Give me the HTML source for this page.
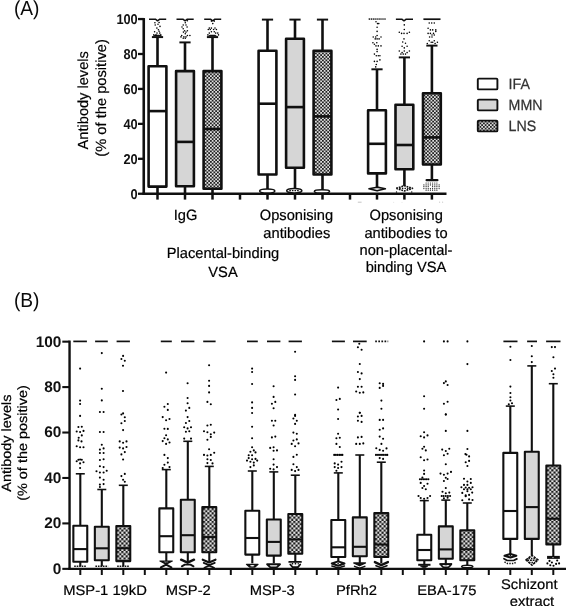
<!DOCTYPE html>
<html lang="en"><head><meta charset="utf-8"><title>Antibody levels box plots</title>
<style>html,body{margin:0;padding:0;background:#fff;}body{width:566px;height:606px;overflow:hidden;font-family:"Liberation Sans", sans-serif;}svg{display:block;filter:grayscale(1);}text{font-family:"Liberation Sans", sans-serif;text-rendering:geometricPrecision;}</style>
</head><body>
<svg width="566" height="606" viewBox="0 0 566 606">
<defs><pattern id="hatch" x="0" y="0" width="3.5" height="3.5" patternUnits="userSpaceOnUse"><rect width="3.5" height="3.5" fill="#dedede"/><rect x="0" y="0" width="1.75" height="1.75" fill="#222222"/><rect x="1.75" y="1.75" width="1.75" height="1.75" fill="#222222"/></pattern><pattern id="hatchB" x="0.9" y="0.6" width="4.3" height="4.3" patternUnits="userSpaceOnUse"><rect width="4.3" height="4.3" fill="#e2e2e2"/><rect x="0" y="0" width="2.15" height="2.15" fill="#1c1c1c"/><rect x="2.15" y="2.15" width="2.15" height="2.15" fill="#1c1c1c"/></pattern></defs>
<rect width="566" height="606" fill="#ffffff"/>
<g id="figure">
<text transform="translate(13.9,14.5) scale(0.945,1)" font-size="20.3" fill="#0a0a0a">(A)</text>
<text transform="translate(13.9,307.4) scale(0.945,1)" font-size="20.3" fill="#0a0a0a">(B)</text>
<g id="panelA">
<line x1="143.75" y1="18.05" x2="143.75" y2="194.85" stroke="#101010" stroke-width="2.6"/>
<line x1="142.45" y1="193.75" x2="446.5" y2="193.75" stroke="#101010" stroke-width="2.6"/>
<line x1="138.0" y1="193.75" x2="143.75" y2="193.75" stroke="#101010" stroke-width="2.3"/>
<text transform="translate(137.7,198.60) scale(0.9,1)" font-size="14.2" font-weight="bold" text-anchor="end" fill="#111">0</text>
<line x1="138.0" y1="158.81" x2="143.75" y2="158.81" stroke="#101010" stroke-width="2.3"/>
<text transform="translate(137.7,163.66) scale(0.9,1)" font-size="14.2" font-weight="bold" text-anchor="end" fill="#111">20</text>
<line x1="138.0" y1="123.87" x2="143.75" y2="123.87" stroke="#101010" stroke-width="2.3"/>
<text transform="translate(137.7,128.72) scale(0.9,1)" font-size="14.2" font-weight="bold" text-anchor="end" fill="#111">40</text>
<line x1="138.0" y1="88.93" x2="143.75" y2="88.93" stroke="#101010" stroke-width="2.3"/>
<text transform="translate(137.7,93.78) scale(0.9,1)" font-size="14.2" font-weight="bold" text-anchor="end" fill="#111">60</text>
<line x1="138.0" y1="53.99" x2="143.75" y2="53.99" stroke="#101010" stroke-width="2.3"/>
<text transform="translate(137.7,58.84) scale(0.9,1)" font-size="14.2" font-weight="bold" text-anchor="end" fill="#111">80</text>
<line x1="138.0" y1="19.05" x2="143.75" y2="19.05" stroke="#101010" stroke-width="2.3"/>
<text transform="translate(137.7,23.90) scale(0.9,1)" font-size="14.2" font-weight="bold" text-anchor="end" fill="#111">100</text>
<line x1="157.5" y1="193.75" x2="157.5" y2="199.6" stroke="#101010" stroke-width="2.5"/>
<line x1="185.0" y1="193.75" x2="185.0" y2="199.6" stroke="#101010" stroke-width="2.5"/>
<line x1="212.5" y1="193.75" x2="212.5" y2="199.6" stroke="#101010" stroke-width="2.5"/>
<line x1="267.5" y1="193.75" x2="267.5" y2="199.6" stroke="#101010" stroke-width="2.5"/>
<line x1="295.0" y1="193.75" x2="295.0" y2="199.6" stroke="#101010" stroke-width="2.5"/>
<line x1="322.5" y1="193.75" x2="322.5" y2="199.6" stroke="#101010" stroke-width="2.5"/>
<line x1="377.0" y1="193.75" x2="377.0" y2="199.6" stroke="#101010" stroke-width="2.5"/>
<line x1="404.4" y1="193.75" x2="404.4" y2="199.6" stroke="#101010" stroke-width="2.5"/>
<line x1="431.9" y1="193.75" x2="431.9" y2="199.6" stroke="#101010" stroke-width="2.5"/>
<line x1="240.0" y1="193.75" x2="240.0" y2="199.6" stroke="#101010" stroke-width="2.5"/>
<line x1="350.0" y1="193.75" x2="350.0" y2="199.6" stroke="#101010" stroke-width="2.5"/>
<text transform="translate(88.4,100.3) rotate(-90)" font-size="14.6" text-anchor="middle" fill="#000" stroke="#000" stroke-width="0.2">Antibody levels</text>
<text transform="translate(106.2,97.9) rotate(-90)" font-size="14.7" text-anchor="middle" fill="#000" stroke="#000" stroke-width="0.2">(% of the positive)</text>
<line x1="157.50" y1="37.10" x2="157.50" y2="66.20" stroke="#101010" stroke-width="2.6"/>
<line x1="151.90" y1="37.10" x2="163.10" y2="37.10" stroke="#101010" stroke-width="1.95"/>
<line x1="157.50" y1="186.60" x2="157.50" y2="193.75" stroke="#101010" stroke-width="2.6"/>
<rect x="148.60" y="66.20" width="17.80" height="120.40" fill="#ffffff" stroke="#101010" stroke-width="2.6" stroke-linejoin="round"/>
<line x1="148.60" y1="111.10" x2="166.40" y2="111.10" stroke="#101010" stroke-width="2.6"/>
<line x1="185.00" y1="42.40" x2="185.00" y2="71.10" stroke="#101010" stroke-width="2.6"/>
<line x1="179.40" y1="42.40" x2="190.60" y2="42.40" stroke="#101010" stroke-width="1.95"/>
<line x1="185.00" y1="186.30" x2="185.00" y2="193.75" stroke="#101010" stroke-width="2.6"/>
<rect x="176.10" y="71.10" width="17.80" height="115.20" fill="#d6d6d6" stroke="#101010" stroke-width="2.6" stroke-linejoin="round"/>
<line x1="176.10" y1="141.90" x2="193.90" y2="141.90" stroke="#101010" stroke-width="2.6"/>
<line x1="212.50" y1="37.10" x2="212.50" y2="71.10" stroke="#101010" stroke-width="2.6"/>
<line x1="206.90" y1="37.10" x2="218.10" y2="37.10" stroke="#101010" stroke-width="1.95"/>
<line x1="212.50" y1="188.70" x2="212.50" y2="193.75" stroke="#101010" stroke-width="2.6"/>
<rect x="203.60" y="71.10" width="17.80" height="117.60" fill="url(#hatch)" stroke="#101010" stroke-width="2.6" stroke-linejoin="round"/>
<line x1="203.60" y1="129.00" x2="221.40" y2="129.00" stroke="#101010" stroke-width="2.6"/>
<line x1="267.50" y1="19.60" x2="267.50" y2="50.70" stroke="#101010" stroke-width="2.6"/>
<line x1="261.90" y1="19.60" x2="273.10" y2="19.60" stroke="#101010" stroke-width="1.95"/>
<line x1="267.50" y1="174.50" x2="267.50" y2="191.30" stroke="#101010" stroke-width="2.6"/>
<rect x="258.60" y="50.70" width="17.80" height="123.80" fill="#ffffff" stroke="#101010" stroke-width="2.6" stroke-linejoin="round"/>
<line x1="258.60" y1="103.70" x2="276.40" y2="103.70" stroke="#101010" stroke-width="2.6"/>
<line x1="295.00" y1="19.60" x2="295.00" y2="38.80" stroke="#101010" stroke-width="2.6"/>
<line x1="289.40" y1="19.60" x2="300.60" y2="19.60" stroke="#101010" stroke-width="1.95"/>
<line x1="295.00" y1="167.80" x2="295.00" y2="191.30" stroke="#101010" stroke-width="2.6"/>
<rect x="286.10" y="38.80" width="17.80" height="129.00" fill="#d6d6d6" stroke="#101010" stroke-width="2.6" stroke-linejoin="round"/>
<line x1="286.10" y1="107.10" x2="303.90" y2="107.10" stroke="#101010" stroke-width="2.6"/>
<line x1="322.50" y1="19.60" x2="322.50" y2="50.70" stroke="#101010" stroke-width="2.6"/>
<line x1="316.90" y1="19.60" x2="328.10" y2="19.60" stroke="#101010" stroke-width="1.95"/>
<line x1="322.50" y1="174.50" x2="322.50" y2="191.60" stroke="#101010" stroke-width="2.6"/>
<rect x="313.60" y="50.70" width="17.80" height="123.80" fill="url(#hatch)" stroke="#101010" stroke-width="2.6" stroke-linejoin="round"/>
<line x1="313.60" y1="116.40" x2="331.40" y2="116.40" stroke="#101010" stroke-width="2.6"/>
<line x1="377.00" y1="69.30" x2="377.00" y2="110.30" stroke="#101010" stroke-width="2.6"/>
<line x1="371.40" y1="69.30" x2="382.60" y2="69.30" stroke="#101010" stroke-width="1.95"/>
<line x1="377.00" y1="173.40" x2="377.00" y2="187.40" stroke="#101010" stroke-width="2.6"/>
<rect x="368.10" y="110.30" width="17.80" height="63.10" fill="#ffffff" stroke="#101010" stroke-width="2.6" stroke-linejoin="round"/>
<line x1="368.10" y1="143.80" x2="385.90" y2="143.80" stroke="#101010" stroke-width="2.6"/>
<line x1="404.40" y1="57.40" x2="404.40" y2="104.80" stroke="#101010" stroke-width="2.6"/>
<line x1="398.80" y1="57.40" x2="410.00" y2="57.40" stroke="#101010" stroke-width="1.95"/>
<line x1="404.40" y1="169.20" x2="404.40" y2="187.40" stroke="#101010" stroke-width="2.6"/>
<rect x="395.50" y="104.80" width="17.80" height="64.40" fill="#d6d6d6" stroke="#101010" stroke-width="2.6" stroke-linejoin="round"/>
<line x1="395.50" y1="145.00" x2="413.30" y2="145.00" stroke="#101010" stroke-width="2.6"/>
<line x1="431.90" y1="45.60" x2="431.90" y2="93.30" stroke="#101010" stroke-width="2.6"/>
<line x1="426.30" y1="45.60" x2="437.50" y2="45.60" stroke="#101010" stroke-width="1.95"/>
<line x1="431.90" y1="164.50" x2="431.90" y2="181.00" stroke="#101010" stroke-width="2.6"/>
<rect x="423.00" y="93.30" width="17.80" height="71.20" fill="url(#hatch)" stroke="#101010" stroke-width="2.6" stroke-linejoin="round"/>
<line x1="423.00" y1="137.40" x2="440.80" y2="137.40" stroke="#101010" stroke-width="2.6"/>
<polyline points="149.0,19.2 155.4,19.2 157.6,20.8 159.79999999999998,19.2 166.2,19.2" fill="none" stroke="#101010" stroke-width="1.5" stroke-linejoin="round"/>
<polyline points="176.5,19.2 182.9,19.2 185.1,20.8 187.29999999999998,19.2 193.7,19.2" fill="none" stroke="#101010" stroke-width="1.5" stroke-linejoin="round"/>
<polyline points="204.2,19.2 210.5,19.2 212.7,20.8 214.89999999999998,19.2 221.2,19.2" fill="none" stroke="#101010" stroke-width="1.5" stroke-linejoin="round"/>
<polyline points="395.9,19.2 401.8,19.2 404.0,20.8 406.2,19.2 413.0,19.2" fill="none" stroke="#101010" stroke-width="1.5" stroke-linejoin="round"/>
<line x1="423.4" y1="19.2" x2="440.5" y2="19.2" stroke="#101010" stroke-width="1.7"/>
<polygon points="152.3,36.5 154.9,34.7 160.1,34.7 162.7,36.5" fill="#101010"/>
<polygon points="207.3,36.5 209.9,34.7 215.1,34.7 217.7,36.5" fill="#101010"/>
<ellipse cx="267.24" cy="190.99" rx="7.6" ry="2.0" fill="#fff" stroke="#101010" stroke-width="1.5"/>
<ellipse cx="294.29" cy="190.68" rx="7.6" ry="2.3" fill="#fff" stroke="#101010" stroke-width="1.5"/>
<line x1="289.29" y1="190.68" x2="299.29" y2="190.68" stroke="#101010" stroke-width="1.2" stroke-dasharray="1.6 1"/>
<ellipse cx="321.96" cy="191.46" rx="7.6" ry="1.6" fill="#fff" stroke="#101010" stroke-width="1.5"/>
<polygon points="369.00,188.76 377.08,187.21 385.32,188.76 377.08,190.78" fill="#fff" stroke="#101010" stroke-width="1.7" stroke-linejoin="round" stroke-linecap="round"/>
<polygon points="396.20,188.30 404.29,185.81 412.53,188.30 404.29,190.94" fill="#fff" stroke="#101010" stroke-width="1.7" stroke-linejoin="round" stroke-linecap="butt" stroke-dasharray="1.8 0.9"/>
<polyline points="399.31,188.30 409.42,188.30" fill="none" stroke="#101010" stroke-width="1.2" stroke-linejoin="round" stroke-linecap="butt" stroke-dasharray="1.4 1.2"/>
<circle cx="396.51" cy="192.03" r="0.7" fill="#101010"/><circle cx="411.75" cy="192.03" r="0.7" fill="#101010"/>
<line x1="426.6" y1="180.2" x2="437.4" y2="180.2" stroke="#101010" stroke-width="2.2" stroke-linecap="round"/>
<line x1="357.8" y1="202.2" x2="361.6" y2="202.2" stroke="#c4c4c4" stroke-width="1"/><circle cx="439.6" cy="202.2" r="0.6" fill="#ccc"/><circle cx="442.6" cy="202.2" r="0.6" fill="#ccc"/><circle cx="393.7" cy="202.2" r="0.5" fill="#ddd"/><circle cx="402.0" cy="202.2" r="0.5" fill="#ddd"/>
<circle cx="154.9" cy="22.8" r="0.78" fill="#000"/>
<circle cx="159.1" cy="22.5" r="0.78" fill="#000"/>
<circle cx="155.2" cy="25.0" r="0.78" fill="#000"/>
<circle cx="158.0" cy="24.2" r="0.78" fill="#000"/>
<circle cx="160.0" cy="26.4" r="0.78" fill="#000"/>
<circle cx="156.9" cy="28.1" r="0.78" fill="#000"/>
<circle cx="158.4" cy="29.8" r="0.78" fill="#000"/>
<circle cx="154.6" cy="31.7" r="0.78" fill="#000"/>
<circle cx="159.1" cy="31.2" r="0.78" fill="#000"/>
<circle cx="157.0" cy="33.1" r="0.78" fill="#000"/>
<circle cx="159.8" cy="33.1" r="0.78" fill="#000"/>
<circle cx="153.8" cy="34.9" r="0.78" fill="#000"/>
<circle cx="156.0" cy="34.9" r="0.78" fill="#000"/>
<circle cx="160.8" cy="34.9" r="0.78" fill="#000"/>
<circle cx="187.4" cy="20.8" r="0.78" fill="#000"/>
<circle cx="185.3" cy="22.8" r="0.78" fill="#000"/>
<circle cx="183.2" cy="25.0" r="0.78" fill="#000"/>
<circle cx="186.0" cy="25.0" r="0.78" fill="#000"/>
<circle cx="182.0" cy="27.0" r="0.78" fill="#000"/>
<circle cx="187.1" cy="27.0" r="0.78" fill="#000"/>
<circle cx="183.2" cy="28.8" r="0.78" fill="#000"/>
<circle cx="184.6" cy="30.7" r="0.78" fill="#000"/>
<circle cx="187.4" cy="30.7" r="0.78" fill="#000"/>
<circle cx="183.4" cy="32.1" r="0.78" fill="#000"/>
<circle cx="186.0" cy="32.1" r="0.78" fill="#000"/>
<circle cx="185.3" cy="33.8" r="0.78" fill="#000"/>
<circle cx="181.7" cy="35.5" r="0.78" fill="#000"/>
<circle cx="187.4" cy="35.5" r="0.78" fill="#000"/>
<circle cx="189.9" cy="35.5" r="0.78" fill="#000"/>
<circle cx="181.0" cy="36.9" r="0.78" fill="#000"/>
<circle cx="183.9" cy="36.9" r="0.78" fill="#000"/>
<circle cx="186.0" cy="36.9" r="0.78" fill="#000"/>
<circle cx="183.2" cy="38.3" r="0.78" fill="#000"/>
<circle cx="185.3" cy="38.3" r="0.78" fill="#000"/>
<circle cx="211.4" cy="21.1" r="0.78" fill="#000"/>
<circle cx="214.3" cy="21.1" r="0.78" fill="#000"/>
<circle cx="212.8" cy="23.6" r="0.78" fill="#000"/>
<circle cx="209.3" cy="28.1" r="0.78" fill="#000"/>
<circle cx="211.4" cy="28.1" r="0.78" fill="#000"/>
<circle cx="215.0" cy="28.1" r="0.78" fill="#000"/>
<circle cx="208.3" cy="29.5" r="0.78" fill="#000"/>
<circle cx="210.3" cy="29.5" r="0.78" fill="#000"/>
<circle cx="213.6" cy="29.5" r="0.78" fill="#000"/>
<circle cx="216.4" cy="29.5" r="0.78" fill="#000"/>
<circle cx="211.4" cy="31.7" r="0.78" fill="#000"/>
<circle cx="214.3" cy="31.7" r="0.78" fill="#000"/>
<circle cx="209.3" cy="33.1" r="0.78" fill="#000"/>
<circle cx="215.7" cy="33.1" r="0.78" fill="#000"/>
<circle cx="217.8" cy="33.1" r="0.78" fill="#000"/>
<circle cx="207.9" cy="34.9" r="0.78" fill="#000"/>
<circle cx="218.5" cy="34.9" r="0.78" fill="#000"/>
<circle cx="369.3" cy="19.1" r="0.78" fill="#000"/>
<circle cx="371.3" cy="19.1" r="0.78" fill="#000"/>
<circle cx="373.2" cy="19.1" r="0.78" fill="#000"/>
<circle cx="375.1" cy="19.1" r="0.78" fill="#000"/>
<circle cx="377.1" cy="19.1" r="0.78" fill="#000"/>
<circle cx="379.1" cy="19.1" r="0.78" fill="#000"/>
<circle cx="381.0" cy="19.1" r="0.78" fill="#000"/>
<circle cx="383.0" cy="19.1" r="0.78" fill="#000"/>
<circle cx="385.0" cy="19.1" r="0.78" fill="#000"/>
<circle cx="376.0" cy="21.8" r="0.78" fill="#000"/>
<circle cx="377.5" cy="23.6" r="0.78" fill="#000"/>
<circle cx="378.8" cy="23.6" r="0.78" fill="#000"/>
<circle cx="377.1" cy="27.2" r="0.78" fill="#000"/>
<circle cx="377.1" cy="31.4" r="0.78" fill="#000"/>
<circle cx="377.1" cy="35.5" r="0.78" fill="#000"/>
<circle cx="373.2" cy="37.0" r="0.78" fill="#000"/>
<circle cx="375.7" cy="37.0" r="0.78" fill="#000"/>
<circle cx="381.0" cy="37.0" r="0.78" fill="#000"/>
<circle cx="375.2" cy="38.9" r="0.78" fill="#000"/>
<circle cx="377.1" cy="38.9" r="0.78" fill="#000"/>
<circle cx="379.1" cy="38.9" r="0.78" fill="#000"/>
<circle cx="372.9" cy="42.8" r="0.78" fill="#000"/>
<circle cx="376.8" cy="42.8" r="0.78" fill="#000"/>
<circle cx="374.4" cy="44.3" r="0.78" fill="#000"/>
<circle cx="376.0" cy="45.9" r="0.78" fill="#000"/>
<circle cx="378.3" cy="45.9" r="0.78" fill="#000"/>
<circle cx="381.0" cy="45.9" r="0.78" fill="#000"/>
<circle cx="377.1" cy="49.4" r="0.78" fill="#000"/>
<circle cx="377.1" cy="51.6" r="0.78" fill="#000"/>
<circle cx="374.4" cy="54.1" r="0.78" fill="#000"/>
<circle cx="376.3" cy="55.7" r="0.78" fill="#000"/>
<circle cx="378.3" cy="55.7" r="0.78" fill="#000"/>
<circle cx="379.9" cy="55.7" r="0.78" fill="#000"/>
<circle cx="379.9" cy="59.9" r="0.78" fill="#000"/>
<circle cx="374.4" cy="61.4" r="0.78" fill="#000"/>
<circle cx="377.1" cy="61.4" r="0.78" fill="#000"/>
<circle cx="376.3" cy="64.5" r="0.78" fill="#000"/>
<circle cx="375.7" cy="66.9" r="0.78" fill="#000"/>
<circle cx="404.3" cy="24.9" r="0.78" fill="#000"/>
<circle cx="404.3" cy="29.5" r="0.78" fill="#000"/>
<circle cx="399.3" cy="32.3" r="0.78" fill="#000"/>
<circle cx="409.4" cy="32.3" r="0.78" fill="#000"/>
<circle cx="401.6" cy="33.4" r="0.78" fill="#000"/>
<circle cx="404.0" cy="33.4" r="0.78" fill="#000"/>
<circle cx="407.1" cy="33.4" r="0.78" fill="#000"/>
<circle cx="404.0" cy="38.9" r="0.78" fill="#000"/>
<circle cx="402.7" cy="42.0" r="0.78" fill="#000"/>
<circle cx="405.5" cy="43.2" r="0.78" fill="#000"/>
<circle cx="402.1" cy="46.3" r="0.78" fill="#000"/>
<circle cx="407.1" cy="46.3" r="0.78" fill="#000"/>
<circle cx="404.3" cy="47.9" r="0.78" fill="#000"/>
<circle cx="399.3" cy="51.0" r="0.78" fill="#000"/>
<circle cx="404.3" cy="51.0" r="0.78" fill="#000"/>
<circle cx="409.4" cy="51.0" r="0.78" fill="#000"/>
<circle cx="402.1" cy="52.6" r="0.78" fill="#000"/>
<circle cx="407.1" cy="52.6" r="0.78" fill="#000"/>
<circle cx="400.9" cy="54.1" r="0.78" fill="#000"/>
<circle cx="403.2" cy="54.1" r="0.78" fill="#000"/>
<circle cx="405.5" cy="54.1" r="0.78" fill="#000"/>
<circle cx="429.2" cy="23.0" r="0.78" fill="#000"/>
<circle cx="431.7" cy="23.0" r="0.78" fill="#000"/>
<circle cx="434.3" cy="23.0" r="0.78" fill="#000"/>
<circle cx="428.1" cy="28.3" r="0.78" fill="#000"/>
<circle cx="430.4" cy="29.9" r="0.78" fill="#000"/>
<circle cx="432.7" cy="29.9" r="0.78" fill="#000"/>
<circle cx="435.8" cy="29.9" r="0.78" fill="#000"/>
<circle cx="435.8" cy="31.4" r="0.78" fill="#000"/>
<circle cx="428.1" cy="33.4" r="0.78" fill="#000"/>
<circle cx="430.4" cy="33.4" r="0.78" fill="#000"/>
<circle cx="433.5" cy="33.4" r="0.78" fill="#000"/>
<circle cx="432.0" cy="35.0" r="0.78" fill="#000"/>
<circle cx="434.3" cy="35.0" r="0.78" fill="#000"/>
<circle cx="429.6" cy="37.0" r="0.78" fill="#000"/>
<circle cx="432.0" cy="37.0" r="0.78" fill="#000"/>
<circle cx="429.2" cy="40.7" r="0.78" fill="#000"/>
<circle cx="434.3" cy="40.7" r="0.78" fill="#000"/>
<circle cx="431.2" cy="42.3" r="0.78" fill="#000"/>
<circle cx="432.7" cy="42.3" r="0.78" fill="#000"/>
<circle cx="437.4" cy="42.3" r="0.78" fill="#000"/>
<circle cx="427.3" cy="43.5" r="0.78" fill="#000"/>
<circle cx="435.1" cy="43.5" r="0.78" fill="#000"/>
<circle cx="426.1" cy="183.0" r="0.58" fill="#111"/>
<circle cx="428.2" cy="183.0" r="0.58" fill="#111"/>
<circle cx="430.4" cy="183.0" r="0.58" fill="#111"/>
<circle cx="432.6" cy="183.0" r="0.58" fill="#111"/>
<circle cx="434.8" cy="183.0" r="0.58" fill="#111"/>
<circle cx="436.9" cy="183.0" r="0.58" fill="#111"/>
<circle cx="423.9" cy="184.9" r="0.58" fill="#111"/>
<circle cx="426.1" cy="184.9" r="0.58" fill="#111"/>
<circle cx="428.2" cy="184.9" r="0.58" fill="#111"/>
<circle cx="430.4" cy="184.9" r="0.58" fill="#111"/>
<circle cx="432.6" cy="184.9" r="0.58" fill="#111"/>
<circle cx="434.8" cy="184.9" r="0.58" fill="#111"/>
<circle cx="436.9" cy="184.9" r="0.58" fill="#111"/>
<circle cx="439.1" cy="184.9" r="0.58" fill="#111"/>
<circle cx="423.9" cy="186.7" r="0.58" fill="#111"/>
<circle cx="426.1" cy="186.7" r="0.58" fill="#111"/>
<circle cx="428.2" cy="186.7" r="0.58" fill="#111"/>
<circle cx="432.6" cy="186.7" r="0.58" fill="#111"/>
<circle cx="434.8" cy="186.7" r="0.58" fill="#111"/>
<circle cx="436.9" cy="186.7" r="0.58" fill="#111"/>
<circle cx="439.1" cy="186.7" r="0.58" fill="#111"/>
<circle cx="423.9" cy="188.6" r="0.58" fill="#111"/>
<circle cx="426.1" cy="188.6" r="0.58" fill="#111"/>
<circle cx="428.2" cy="188.6" r="0.58" fill="#111"/>
<circle cx="430.4" cy="188.6" r="0.58" fill="#111"/>
<circle cx="432.6" cy="188.6" r="0.58" fill="#111"/>
<circle cx="434.8" cy="188.6" r="0.58" fill="#111"/>
<circle cx="436.9" cy="188.6" r="0.58" fill="#111"/>
<circle cx="439.1" cy="188.6" r="0.58" fill="#111"/>
<circle cx="426.1" cy="190.2" r="0.58" fill="#111"/>
<circle cx="428.2" cy="190.2" r="0.58" fill="#111"/>
<circle cx="430.4" cy="190.2" r="0.58" fill="#111"/>
<circle cx="432.6" cy="190.2" r="0.58" fill="#111"/>
<circle cx="434.8" cy="190.2" r="0.58" fill="#111"/>
<circle cx="436.9" cy="190.2" r="0.58" fill="#111"/>
<text transform="translate(185.6,220.20) scale(0.985,1)" stroke="#000" stroke-width="0.2" font-size="14.9" text-anchor="middle" fill="#000">IgG</text>
<text transform="translate(296.5,220.30) scale(0.985,1)" stroke="#000" stroke-width="0.2" font-size="14.9" text-anchor="middle" fill="#000">Opsonising</text>
<text transform="translate(296.8,237.50) scale(0.985,1)" stroke="#000" stroke-width="0.2" font-size="14.9" text-anchor="middle" fill="#000">antibodies</text>
<text transform="translate(223.0,258.40) scale(0.985,1)" stroke="#000" stroke-width="0.2" font-size="14.9" text-anchor="middle" fill="#000">Placental-binding</text>
<text transform="translate(223.0,276.60) scale(0.985,1)" stroke="#000" stroke-width="0.2" font-size="14.9" text-anchor="middle" fill="#000">VSA</text>
<text transform="translate(406.2,220.30) scale(0.985,1)" stroke="#000" stroke-width="0.2" font-size="14.9" text-anchor="middle" fill="#000">Opsonising</text>
<text transform="translate(406.0,237.50) scale(0.985,1)" stroke="#000" stroke-width="0.2" font-size="14.9" text-anchor="middle" fill="#000">antibodies to</text>
<text transform="translate(406.0,254.60) scale(0.985,1)" stroke="#000" stroke-width="0.2" font-size="14.9" text-anchor="middle" fill="#000">non-placental-</text>
<text transform="translate(406.0,271.70) scale(0.985,1)" stroke="#000" stroke-width="0.2" font-size="14.9" text-anchor="middle" fill="#000">binding VSA</text>
<rect x="477.8" y="78.6" width="19.6" height="10.8" rx="1" fill="#ffffff" stroke="#101010" stroke-width="1.9"/>
<text transform="translate(508.6,89.4) scale(0.955,1)" font-size="14.9" fill="#333" stroke="#333" stroke-width="0.25">IFA</text>
<rect x="477.8" y="99.6" width="19.6" height="10.8" rx="1" fill="#d6d6d6" stroke="#101010" stroke-width="1.9"/>
<text transform="translate(508.6,110.4) scale(0.955,1)" font-size="14.9" fill="#333" stroke="#333" stroke-width="0.25">MMN</text>
<rect x="477.8" y="120.6" width="19.6" height="10.8" rx="1" fill="url(#hatch)" stroke="#101010" stroke-width="1.9"/>
<text transform="translate(508.6,131.4) scale(0.955,1)" font-size="14.9" fill="#333" stroke="#333" stroke-width="0.25">LNS</text>
</g>
<g id="panelB">
<line x1="69.55" y1="340.55" x2="69.55" y2="570.00" stroke="#101010" stroke-width="2.4"/>
<line x1="68.35" y1="568.85" x2="566" y2="568.85" stroke="#101010" stroke-width="2.3"/>
<line x1="62.3" y1="568.85" x2="69.55" y2="568.85" stroke="#101010" stroke-width="2.1"/>
<text transform="translate(61.4,573.70) scale(1.0,1)" font-size="15.4" font-weight="bold" text-anchor="end" fill="#111">0</text>
<line x1="62.3" y1="523.41" x2="69.55" y2="523.41" stroke="#101010" stroke-width="2.1"/>
<text transform="translate(61.4,528.26) scale(1.0,1)" font-size="15.4" font-weight="bold" text-anchor="end" fill="#111">20</text>
<line x1="62.3" y1="477.97" x2="69.55" y2="477.97" stroke="#101010" stroke-width="2.1"/>
<text transform="translate(61.4,482.82) scale(1.0,1)" font-size="15.4" font-weight="bold" text-anchor="end" fill="#111">40</text>
<line x1="62.3" y1="432.53" x2="69.55" y2="432.53" stroke="#101010" stroke-width="2.1"/>
<text transform="translate(61.4,437.38) scale(1.0,1)" font-size="15.4" font-weight="bold" text-anchor="end" fill="#111">60</text>
<line x1="62.3" y1="387.09" x2="69.55" y2="387.09" stroke="#101010" stroke-width="2.1"/>
<text transform="translate(61.4,391.94) scale(1.0,1)" font-size="15.4" font-weight="bold" text-anchor="end" fill="#111">80</text>
<line x1="62.3" y1="341.65" x2="69.55" y2="341.65" stroke="#101010" stroke-width="2.1"/>
<text transform="translate(61.4,346.50) scale(1.0,1)" font-size="15.4" font-weight="bold" text-anchor="end" fill="#111">100</text>
<line x1="80.30" y1="568.85" x2="80.30" y2="575" stroke="#101010" stroke-width="2"/>
<line x1="101.80" y1="568.85" x2="101.80" y2="575" stroke="#101010" stroke-width="2"/>
<line x1="123.30" y1="568.85" x2="123.30" y2="575" stroke="#101010" stroke-width="2"/>
<line x1="144.80" y1="568.85" x2="144.80" y2="575" stroke="#101010" stroke-width="2"/>
<line x1="166.30" y1="568.85" x2="166.30" y2="575" stroke="#101010" stroke-width="2"/>
<line x1="187.80" y1="568.85" x2="187.80" y2="575" stroke="#101010" stroke-width="2"/>
<line x1="209.30" y1="568.85" x2="209.30" y2="575" stroke="#101010" stroke-width="2"/>
<line x1="230.80" y1="568.85" x2="230.80" y2="575" stroke="#101010" stroke-width="2"/>
<line x1="252.30" y1="568.85" x2="252.30" y2="575" stroke="#101010" stroke-width="2"/>
<line x1="273.80" y1="568.85" x2="273.80" y2="575" stroke="#101010" stroke-width="2"/>
<line x1="295.30" y1="568.85" x2="295.30" y2="575" stroke="#101010" stroke-width="2"/>
<line x1="316.80" y1="568.85" x2="316.80" y2="575" stroke="#101010" stroke-width="2"/>
<line x1="338.30" y1="568.85" x2="338.30" y2="575" stroke="#101010" stroke-width="2"/>
<line x1="359.80" y1="568.85" x2="359.80" y2="575" stroke="#101010" stroke-width="2"/>
<line x1="381.30" y1="568.85" x2="381.30" y2="575" stroke="#101010" stroke-width="2"/>
<line x1="402.80" y1="568.85" x2="402.80" y2="575" stroke="#101010" stroke-width="2"/>
<line x1="424.30" y1="568.85" x2="424.30" y2="575" stroke="#101010" stroke-width="2"/>
<line x1="445.80" y1="568.85" x2="445.80" y2="575" stroke="#101010" stroke-width="2"/>
<line x1="467.30" y1="568.85" x2="467.30" y2="575" stroke="#101010" stroke-width="2"/>
<line x1="488.80" y1="568.85" x2="488.80" y2="575" stroke="#101010" stroke-width="2"/>
<line x1="510.30" y1="568.85" x2="510.30" y2="575" stroke="#101010" stroke-width="2"/>
<line x1="531.80" y1="568.85" x2="531.80" y2="575" stroke="#101010" stroke-width="2"/>
<line x1="553.30" y1="568.85" x2="553.30" y2="575" stroke="#101010" stroke-width="2"/>
<text transform="translate(10.8,443.1) rotate(-90) scale(1.08,1)" font-size="13.4" text-anchor="middle" fill="#000" stroke="#000" stroke-width="0.2">Antibody levels</text>
<text transform="translate(27.4,443.0) rotate(-90) scale(1.08,1)" font-size="13.4" text-anchor="middle" fill="#000" stroke="#000" stroke-width="0.2">(% of the positive)</text>
<line x1="73.3" y1="341.4" x2="86.9" y2="341.4" stroke="#101010" stroke-width="1.7"/>
<line x1="95.1" y1="341.4" x2="107.8" y2="341.4" stroke="#101010" stroke-width="1.7"/>
<line x1="116.6" y1="341.4" x2="129.9" y2="341.4" stroke="#101010" stroke-width="1.7"/>
<line x1="160.8" y1="341.4" x2="171.8" y2="341.4" stroke="#101010" stroke-width="1.7"/>
<line x1="181.0" y1="341.4" x2="194.4" y2="341.4" stroke="#101010" stroke-width="1.7"/>
<line x1="203.2" y1="341.4" x2="215.6" y2="341.4" stroke="#101010" stroke-width="1.7"/>
<line x1="247.0" y1="341.4" x2="257.8" y2="341.4" stroke="#101010" stroke-width="1.7"/>
<line x1="267.0" y1="341.4" x2="280.4" y2="341.4" stroke="#101010" stroke-width="1.7"/>
<line x1="288.6" y1="341.4" x2="301.9" y2="341.4" stroke="#101010" stroke-width="1.7"/>
<line x1="331.9" y1="341.4" x2="344.9" y2="341.4" stroke="#101010" stroke-width="1.7"/>
<line x1="353.0" y1="341.4" x2="366.7" y2="341.4" stroke="#101010" stroke-width="1.7"/>
<line x1="503.4" y1="341.4" x2="517.5" y2="341.4" stroke="#101010" stroke-width="1.7"/>
<line x1="527.1" y1="341.4" x2="537.0" y2="341.4" stroke="#101010" stroke-width="1.7"/>
<line x1="546.1" y1="341.4" x2="560.5" y2="341.4" stroke="#101010" stroke-width="1.7"/>
<line x1="375.2" y1="341.4" x2="388.2" y2="341.4" stroke="#101010" stroke-width="1.6" stroke-dasharray="1.7 1.4"/>
<line x1="80.30" y1="473.80" x2="80.30" y2="525.70" stroke="#101010" stroke-width="2.1"/>
<line x1="75.80" y1="473.80" x2="84.80" y2="473.80" stroke="#101010" stroke-width="1.58"/>
<line x1="80.30" y1="561.80" x2="80.30" y2="566.30" stroke="#101010" stroke-width="2.1"/>
<rect x="73.35" y="525.70" width="13.90" height="36.10" fill="#ffffff" stroke="#101010" stroke-width="2.1" stroke-linejoin="round"/>
<line x1="73.35" y1="549.10" x2="87.25" y2="549.10" stroke="#101010" stroke-width="2.1"/>
<line x1="101.80" y1="489.50" x2="101.80" y2="526.80" stroke="#101010" stroke-width="2.1"/>
<line x1="97.30" y1="489.50" x2="106.30" y2="489.50" stroke="#101010" stroke-width="1.58"/>
<line x1="101.80" y1="560.30" x2="101.80" y2="566.30" stroke="#101010" stroke-width="2.1"/>
<rect x="94.85" y="526.80" width="13.90" height="33.50" fill="#d6d6d6" stroke="#101010" stroke-width="2.1" stroke-linejoin="round"/>
<line x1="94.85" y1="548.30" x2="108.75" y2="548.30" stroke="#101010" stroke-width="2.1"/>
<line x1="123.30" y1="485.30" x2="123.30" y2="526.00" stroke="#101010" stroke-width="2.1"/>
<line x1="118.80" y1="485.30" x2="127.80" y2="485.30" stroke="#101010" stroke-width="1.58"/>
<line x1="123.30" y1="561.10" x2="123.30" y2="566.30" stroke="#101010" stroke-width="2.1"/>
<rect x="116.35" y="526.00" width="13.90" height="35.10" fill="url(#hatchB)" stroke="#101010" stroke-width="2.1" stroke-linejoin="round"/>
<line x1="116.35" y1="548.20" x2="130.25" y2="548.20" stroke="#101010" stroke-width="2.1"/>
<line x1="166.30" y1="469.60" x2="166.30" y2="508.40" stroke="#101010" stroke-width="2.1"/>
<line x1="161.80" y1="469.60" x2="170.80" y2="469.60" stroke="#101010" stroke-width="1.58"/>
<line x1="166.30" y1="552.30" x2="166.30" y2="562.30" stroke="#101010" stroke-width="2.1"/>
<rect x="159.35" y="508.40" width="13.90" height="43.90" fill="#ffffff" stroke="#101010" stroke-width="2.1" stroke-linejoin="round"/>
<line x1="159.35" y1="536.20" x2="173.25" y2="536.20" stroke="#101010" stroke-width="2.1"/>
<line x1="187.80" y1="441.30" x2="187.80" y2="499.70" stroke="#101010" stroke-width="2.1"/>
<line x1="183.30" y1="441.30" x2="192.30" y2="441.30" stroke="#101010" stroke-width="1.58"/>
<line x1="187.80" y1="552.30" x2="187.80" y2="562.30" stroke="#101010" stroke-width="2.1"/>
<rect x="180.85" y="499.70" width="13.90" height="52.60" fill="#d6d6d6" stroke="#101010" stroke-width="2.1" stroke-linejoin="round"/>
<line x1="180.85" y1="535.20" x2="194.75" y2="535.20" stroke="#101010" stroke-width="2.1"/>
<line x1="209.30" y1="466.40" x2="209.30" y2="507.10" stroke="#101010" stroke-width="2.1"/>
<line x1="204.80" y1="466.40" x2="213.80" y2="466.40" stroke="#101010" stroke-width="1.58"/>
<line x1="209.30" y1="552.30" x2="209.30" y2="561.80" stroke="#101010" stroke-width="2.1"/>
<rect x="202.35" y="507.10" width="13.90" height="45.20" fill="url(#hatchB)" stroke="#101010" stroke-width="2.1" stroke-linejoin="round"/>
<line x1="202.35" y1="537.10" x2="216.25" y2="537.10" stroke="#101010" stroke-width="2.1"/>
<line x1="252.30" y1="471.00" x2="252.30" y2="510.80" stroke="#101010" stroke-width="2.1"/>
<line x1="247.80" y1="471.00" x2="256.80" y2="471.00" stroke="#101010" stroke-width="1.58"/>
<line x1="252.30" y1="554.60" x2="252.30" y2="563.30" stroke="#101010" stroke-width="2.1"/>
<rect x="245.35" y="510.80" width="13.90" height="43.80" fill="#ffffff" stroke="#101010" stroke-width="2.1" stroke-linejoin="round"/>
<line x1="245.35" y1="538.00" x2="259.25" y2="538.00" stroke="#101010" stroke-width="2.1"/>
<line x1="273.80" y1="471.90" x2="273.80" y2="519.50" stroke="#101010" stroke-width="2.1"/>
<line x1="269.30" y1="471.90" x2="278.30" y2="471.90" stroke="#101010" stroke-width="1.58"/>
<line x1="273.80" y1="555.60" x2="273.80" y2="563.30" stroke="#101010" stroke-width="2.1"/>
<rect x="266.85" y="519.50" width="13.90" height="36.10" fill="#d6d6d6" stroke="#101010" stroke-width="2.1" stroke-linejoin="round"/>
<line x1="266.85" y1="541.90" x2="280.75" y2="541.90" stroke="#101010" stroke-width="2.1"/>
<line x1="295.30" y1="475.20" x2="295.30" y2="514.00" stroke="#101010" stroke-width="2.1"/>
<line x1="290.80" y1="475.20" x2="299.80" y2="475.20" stroke="#101010" stroke-width="1.58"/>
<line x1="295.30" y1="553.70" x2="295.30" y2="562.30" stroke="#101010" stroke-width="2.1"/>
<rect x="288.35" y="514.00" width="13.90" height="39.70" fill="url(#hatchB)" stroke="#101010" stroke-width="2.1" stroke-linejoin="round"/>
<line x1="288.35" y1="539.40" x2="302.25" y2="539.40" stroke="#101010" stroke-width="2.1"/>
<line x1="338.30" y1="472.90" x2="338.30" y2="520.00" stroke="#101010" stroke-width="2.1"/>
<line x1="333.80" y1="472.90" x2="342.80" y2="472.90" stroke="#101010" stroke-width="1.58"/>
<line x1="338.30" y1="557.00" x2="338.30" y2="562.30" stroke="#101010" stroke-width="2.1"/>
<rect x="331.35" y="520.00" width="13.90" height="37.00" fill="#ffffff" stroke="#101010" stroke-width="2.1" stroke-linejoin="round"/>
<line x1="331.35" y1="547.30" x2="345.25" y2="547.30" stroke="#101010" stroke-width="2.1"/>
<line x1="359.80" y1="455.00" x2="359.80" y2="517.40" stroke="#101010" stroke-width="2.1"/>
<line x1="355.30" y1="455.00" x2="364.30" y2="455.00" stroke="#101010" stroke-width="1.58"/>
<line x1="359.80" y1="556.30" x2="359.80" y2="563.30" stroke="#101010" stroke-width="2.1"/>
<rect x="352.85" y="517.40" width="13.90" height="38.90" fill="#d6d6d6" stroke="#101010" stroke-width="2.1" stroke-linejoin="round"/>
<line x1="352.85" y1="546.80" x2="366.75" y2="546.80" stroke="#101010" stroke-width="2.1"/>
<line x1="381.30" y1="462.20" x2="381.30" y2="513.10" stroke="#101010" stroke-width="2.1"/>
<line x1="376.80" y1="462.20" x2="385.80" y2="462.20" stroke="#101010" stroke-width="1.58"/>
<line x1="381.30" y1="557.00" x2="381.30" y2="563.30" stroke="#101010" stroke-width="2.1"/>
<rect x="374.35" y="513.10" width="13.90" height="43.90" fill="url(#hatchB)" stroke="#101010" stroke-width="2.1" stroke-linejoin="round"/>
<line x1="374.35" y1="544.50" x2="388.25" y2="544.50" stroke="#101010" stroke-width="2.1"/>
<line x1="424.30" y1="500.60" x2="424.30" y2="534.80" stroke="#101010" stroke-width="2.1"/>
<line x1="419.80" y1="500.60" x2="428.80" y2="500.60" stroke="#101010" stroke-width="1.58"/>
<line x1="424.30" y1="560.20" x2="424.30" y2="565.30" stroke="#101010" stroke-width="2.1"/>
<rect x="417.35" y="534.80" width="13.90" height="25.40" fill="#ffffff" stroke="#101010" stroke-width="2.1" stroke-linejoin="round"/>
<line x1="417.35" y1="550.00" x2="431.25" y2="550.00" stroke="#101010" stroke-width="2.1"/>
<line x1="445.80" y1="500.10" x2="445.80" y2="526.40" stroke="#101010" stroke-width="2.1"/>
<line x1="441.30" y1="500.10" x2="450.30" y2="500.10" stroke="#101010" stroke-width="1.58"/>
<line x1="445.80" y1="558.70" x2="445.80" y2="565.30" stroke="#101010" stroke-width="2.1"/>
<rect x="438.85" y="526.40" width="13.90" height="32.30" fill="#d6d6d6" stroke="#101010" stroke-width="2.1" stroke-linejoin="round"/>
<line x1="438.85" y1="549.40" x2="452.75" y2="549.40" stroke="#101010" stroke-width="2.1"/>
<line x1="467.30" y1="503.00" x2="467.30" y2="530.20" stroke="#101010" stroke-width="2.1"/>
<line x1="462.80" y1="503.00" x2="471.80" y2="503.00" stroke="#101010" stroke-width="1.58"/>
<line x1="467.30" y1="560.30" x2="467.30" y2="566.30" stroke="#101010" stroke-width="2.1"/>
<rect x="460.35" y="530.20" width="13.90" height="30.10" fill="url(#hatchB)" stroke="#101010" stroke-width="2.1" stroke-linejoin="round"/>
<line x1="460.35" y1="549.30" x2="474.25" y2="549.30" stroke="#101010" stroke-width="2.1"/>
<line x1="510.30" y1="406.10" x2="510.30" y2="452.90" stroke="#101010" stroke-width="2.1"/>
<line x1="505.80" y1="406.10" x2="514.80" y2="406.10" stroke="#101010" stroke-width="1.58"/>
<line x1="510.30" y1="538.90" x2="510.30" y2="554.00" stroke="#101010" stroke-width="2.1"/>
<rect x="503.35" y="452.90" width="13.90" height="86.00" fill="#ffffff" stroke="#101010" stroke-width="2.1" stroke-linejoin="round"/>
<line x1="503.35" y1="511.00" x2="517.25" y2="511.00" stroke="#101010" stroke-width="2.1"/>
<line x1="531.80" y1="365.90" x2="531.80" y2="451.80" stroke="#101010" stroke-width="2.1"/>
<line x1="527.30" y1="365.90" x2="536.30" y2="365.90" stroke="#101010" stroke-width="1.58"/>
<line x1="531.80" y1="538.90" x2="531.80" y2="555.30" stroke="#101010" stroke-width="2.1"/>
<rect x="524.85" y="451.80" width="13.90" height="87.10" fill="#d6d6d6" stroke="#101010" stroke-width="2.1" stroke-linejoin="round"/>
<line x1="524.85" y1="507.10" x2="538.75" y2="507.10" stroke="#101010" stroke-width="2.1"/>
<line x1="553.30" y1="383.70" x2="553.30" y2="465.50" stroke="#101010" stroke-width="2.1"/>
<line x1="548.80" y1="383.70" x2="557.80" y2="383.70" stroke="#101010" stroke-width="1.58"/>
<line x1="553.30" y1="544.40" x2="553.30" y2="556.70" stroke="#101010" stroke-width="2.1"/>
<rect x="546.35" y="465.50" width="13.90" height="78.90" fill="url(#hatchB)" stroke="#101010" stroke-width="2.1" stroke-linejoin="round"/>
<line x1="546.35" y1="518.70" x2="560.25" y2="518.70" stroke="#101010" stroke-width="2.1"/>
<polyline points="74.20,566.34 86.07,566.34" fill="none" stroke="#101010" stroke-width="1.5" stroke-linejoin="round" stroke-linecap="butt" stroke-dasharray="1.6 0.9"/>
<polyline points="95.40,566.34 108.12,566.34" fill="none" stroke="#101010" stroke-width="1.5" stroke-linejoin="round" stroke-linecap="butt" stroke-dasharray="1.6 0.9"/>
<polyline points="117.17,566.34 129.04,566.34" fill="none" stroke="#101010" stroke-width="1.5" stroke-linejoin="round" stroke-linecap="butt" stroke-dasharray="1.6 0.9"/>
<polygon points="159.92,560.98 172.35,560.98 166.13,564.23" fill="#101010" stroke="#101010" stroke-width="1.2" stroke-linejoin="round" stroke-linecap="round"/>
<polyline points="160.90,567.48 166.13,564.51 171.36,567.48" fill="none" stroke="#101010" stroke-width="2.0" stroke-linejoin="round" stroke-linecap="round"/>
<polygon points="163.87,561.82 168.40,561.82 166.13,563.10" fill="#fff" stroke="#101010" stroke-width="0.1" stroke-linejoin="round" stroke-linecap="round"/>
<circle cx="166.13" cy="562.39" r="0.7" fill="#101010"/>
<polyline points="181.12,559.70 187.62,562.67 193.98,559.70" fill="none" stroke="#101010" stroke-width="2.5" stroke-linejoin="round" stroke-linecap="round"/>
<polyline points="181.82,566.35 184.79,564.65 190.45,564.65 193.55,566.35" fill="none" stroke="#101010" stroke-width="1.8" stroke-linejoin="round" stroke-linecap="round"/>
<polyline points="202.74,559.70 209.10,562.39 215.46,559.70" fill="none" stroke="#101010" stroke-width="2.2" stroke-linejoin="round" stroke-linecap="round"/>
<polyline points="203.73,562.81 209.10,565.07 214.76,562.81" fill="none" stroke="#101010" stroke-width="1.8" stroke-linejoin="round" stroke-linecap="round"/>
<polyline points="204.44,567.76 209.10,565.64 214.05,567.76" fill="none" stroke="#101010" stroke-width="1.8" stroke-linejoin="round" stroke-linecap="round"/>
<polygon points="246.48,564.36 258.07,564.36 254.96,567.05 249.59,567.05" fill="#101010" stroke="#101010" stroke-width="1.2" stroke-linejoin="round" stroke-linecap="round"/>
<ellipse cx="252.28" cy="565.78" rx="2.2" ry="0.7" fill="#fff"/>
<polygon points="267.12,564.22 279.98,564.22 276.73,567.33 270.37,567.33" fill="#fff" stroke="#101010" stroke-width="1.9" stroke-linejoin="round" stroke-linecap="round"/>
<polyline points="289.17,561.96 301.04,561.96" fill="none" stroke="#101010" stroke-width="1.7" stroke-linejoin="round" stroke-linecap="round"/>
<polyline points="290.30,564.51 292.56,567.19 297.93,567.19 300.19,564.51" fill="none" stroke="#101010" stroke-width="1.8" stroke-linejoin="round" stroke-linecap="round"/>
<polyline points="291.71,563.66 298.78,563.66" fill="none" stroke="#101010" stroke-width="1.5" stroke-linejoin="round" stroke-linecap="butt" stroke-dasharray="1.5 1.5"/>
<polygon points="331.77,563.52 338.13,561.40 344.49,563.52 338.13,565.78" fill="#fff" stroke="#101010" stroke-width="2.0" stroke-linejoin="round" stroke-linecap="round"/>
<circle cx="338.13" cy="563.52" r="0.8" fill="#101010"/>
<polyline points="331.92,566.06 338.13,568.04 344.35,566.06" fill="none" stroke="#101010" stroke-width="1.6" stroke-linejoin="round" stroke-linecap="round"/>
<polygon points="353.68,562.95 365.55,562.95 359.62,565.78" fill="#101010" stroke="#101010" stroke-width="1.2" stroke-linejoin="round" stroke-linecap="round"/>
<polyline points="354.53,566.34 359.62,568.32 364.85,566.34" fill="none" stroke="#101010" stroke-width="1.5" stroke-linejoin="round" stroke-linecap="round"/>
<polyline points="374.88,562.10 381.24,565.07 387.89,562.10" fill="none" stroke="#101010" stroke-width="2.4" stroke-linejoin="round" stroke-linecap="round"/>
<polyline points="376.01,565.64 381.24,567.76 386.90,565.64" fill="none" stroke="#101010" stroke-width="1.6" stroke-linejoin="round" stroke-linecap="round"/>
<polyline points="418.20,564.79 430.49,564.79" fill="none" stroke="#101010" stroke-width="2.0" stroke-linejoin="round" stroke-linecap="butt"/>
<polygon points="420.74,565.92 427.81,565.92 425.83,567.33 422.72,567.33" fill="#101010" stroke="#101010" stroke-width="1.0" stroke-linejoin="round" stroke-linecap="round"/>
<polyline points="439.40,564.08 452.12,564.08" fill="none" stroke="#101010" stroke-width="2.0" stroke-linejoin="round" stroke-linecap="butt"/>
<polyline points="441.10,565.21 443.36,567.33 448.45,567.33 450.71,565.21" fill="none" stroke="#101010" stroke-width="1.7" stroke-linejoin="round" stroke-linecap="round"/>
<ellipse cx="467.24" cy="566.48" rx="5.6" ry="1.25" fill="#fff" stroke="#101010" stroke-width="1.5"/>
<polygon points="504.50,555.78 510.41,553.90 516.32,555.78 510.41,557.53" fill="#fff" stroke="#101010" stroke-width="2.0" stroke-linejoin="round" stroke-linecap="round"/>
<circle cx="510.41" cy="555.65" r="0.8" fill="#101010"/>
<polyline points="503.97,558.74 507.19,560.48 513.63,560.48 516.86,558.87" fill="none" stroke="#101010" stroke-width="1.7" stroke-linejoin="round" stroke-linecap="round"/>
<polyline points="504.50,561.96 507.46,563.57 513.37,563.57 516.32,562.23" fill="none" stroke="#101010" stroke-width="1.5" stroke-linejoin="round" stroke-linecap="butt" stroke-dasharray="1.4 1.2"/>
<polygon points="525.99,559.81 532.03,555.38 538.07,559.81 532.03,565.18" fill="#fff" stroke="#101010" stroke-width="1.6" stroke-linejoin="round" stroke-linecap="butt" stroke-dasharray="2.4 0.8"/>
<polyline points="528.40,558.47 535.66,558.47" fill="none" stroke="#101010" stroke-width="1.4" stroke-linejoin="round" stroke-linecap="butt" stroke-dasharray="1.5 1.0"/>
<polyline points="527.33,560.35 536.73,560.35" fill="none" stroke="#101010" stroke-width="1.5" stroke-linejoin="round" stroke-linecap="butt" stroke-dasharray="1.8 0.9"/>
<polyline points="528.94,562.50 535.12,562.50" fill="none" stroke="#101010" stroke-width="1.5" stroke-linejoin="round" stroke-linecap="butt" stroke-dasharray="1.5 1.0"/>
<polyline points="547.07,557.39 559.83,557.39" fill="none" stroke="#101010" stroke-width="3.0" stroke-linejoin="round" stroke-linecap="butt"/>
<circle cx="553.0" cy="557.6" r="0.6" fill="#ddd"/>
<circle cx="80.1" cy="368.6" r="1.05" fill="#000"/>
<circle cx="80.1" cy="400.6" r="1.05" fill="#000"/>
<circle cx="80.1" cy="404.0" r="1.05" fill="#000"/>
<circle cx="101.8" cy="353.1" r="1.05" fill="#000"/>
<circle cx="101.8" cy="388.7" r="1.05" fill="#000"/>
<circle cx="101.8" cy="400.4" r="1.05" fill="#000"/>
<circle cx="123.1" cy="355.9" r="1.05" fill="#000"/>
<circle cx="121.4" cy="359.0" r="1.05" fill="#000"/>
<circle cx="124.8" cy="360.7" r="1.05" fill="#000"/>
<circle cx="123.0" cy="365.8" r="1.05" fill="#000"/>
<circle cx="123.0" cy="391.0" r="1.05" fill="#000"/>
<circle cx="80.1" cy="415.9" r="1.05" fill="#000"/>
<circle cx="78.4" cy="427.0" r="1.05" fill="#000"/>
<circle cx="81.8" cy="426.7" r="1.05" fill="#000"/>
<circle cx="76.7" cy="431.5" r="1.05" fill="#000"/>
<circle cx="80.1" cy="432.0" r="1.05" fill="#000"/>
<circle cx="83.5" cy="430.9" r="1.05" fill="#000"/>
<circle cx="81.8" cy="435.4" r="1.05" fill="#000"/>
<circle cx="78.7" cy="437.7" r="1.05" fill="#000"/>
<circle cx="78.4" cy="440.4" r="1.05" fill="#000"/>
<circle cx="81.5" cy="441.4" r="1.05" fill="#000"/>
<circle cx="76.7" cy="446.2" r="1.05" fill="#000"/>
<circle cx="80.1" cy="447.3" r="1.05" fill="#000"/>
<circle cx="83.5" cy="447.3" r="1.05" fill="#000"/>
<circle cx="76.7" cy="461.2" r="1.05" fill="#000"/>
<circle cx="78.4" cy="459.8" r="1.05" fill="#000"/>
<circle cx="80.1" cy="459.5" r="1.05" fill="#000"/>
<circle cx="81.8" cy="459.8" r="1.05" fill="#000"/>
<circle cx="83.5" cy="462.3" r="1.05" fill="#000"/>
<circle cx="80.1" cy="463.4" r="1.05" fill="#000"/>
<circle cx="80.1" cy="468.0" r="1.05" fill="#000"/>
<circle cx="99.9" cy="412.0" r="1.05" fill="#000"/>
<circle cx="103.6" cy="412.0" r="1.05" fill="#000"/>
<circle cx="99.9" cy="432.0" r="1.05" fill="#000"/>
<circle cx="103.6" cy="432.0" r="1.05" fill="#000"/>
<circle cx="101.8" cy="444.8" r="1.05" fill="#000"/>
<circle cx="99.9" cy="449.6" r="1.05" fill="#000"/>
<circle cx="103.6" cy="448.4" r="1.05" fill="#000"/>
<circle cx="99.9" cy="453.0" r="1.05" fill="#000"/>
<circle cx="103.6" cy="453.0" r="1.05" fill="#000"/>
<circle cx="99.9" cy="460.0" r="1.05" fill="#000"/>
<circle cx="103.6" cy="459.2" r="1.05" fill="#000"/>
<circle cx="99.9" cy="466.3" r="1.05" fill="#000"/>
<circle cx="103.6" cy="467.1" r="1.05" fill="#000"/>
<circle cx="96.5" cy="471.3" r="1.05" fill="#000"/>
<circle cx="99.9" cy="472.5" r="1.05" fill="#000"/>
<circle cx="103.6" cy="472.5" r="1.05" fill="#000"/>
<circle cx="106.7" cy="470.8" r="1.05" fill="#000"/>
<circle cx="99.9" cy="477.6" r="1.05" fill="#000"/>
<circle cx="103.6" cy="479.8" r="1.05" fill="#000"/>
<circle cx="99.9" cy="484.6" r="1.05" fill="#000"/>
<circle cx="103.6" cy="484.1" r="1.05" fill="#000"/>
<circle cx="99.9" cy="487.0" r="1.05" fill="#000"/>
<circle cx="121.4" cy="414.5" r="1.05" fill="#000"/>
<circle cx="123.1" cy="413.4" r="1.05" fill="#000"/>
<circle cx="124.8" cy="417.3" r="1.05" fill="#000"/>
<circle cx="124.8" cy="421.0" r="1.05" fill="#000"/>
<circle cx="121.4" cy="423.3" r="1.05" fill="#000"/>
<circle cx="123.1" cy="430.1" r="1.05" fill="#000"/>
<circle cx="119.7" cy="441.4" r="1.05" fill="#000"/>
<circle cx="123.1" cy="442.8" r="1.05" fill="#000"/>
<circle cx="126.5" cy="441.4" r="1.05" fill="#000"/>
<circle cx="119.7" cy="447.6" r="1.05" fill="#000"/>
<circle cx="123.1" cy="448.4" r="1.05" fill="#000"/>
<circle cx="126.5" cy="447.0" r="1.05" fill="#000"/>
<circle cx="124.8" cy="452.1" r="1.05" fill="#000"/>
<circle cx="121.4" cy="454.4" r="1.05" fill="#000"/>
<circle cx="123.1" cy="459.5" r="1.05" fill="#000"/>
<circle cx="124.8" cy="473.9" r="1.05" fill="#000"/>
<circle cx="121.4" cy="476.1" r="1.05" fill="#000"/>
<circle cx="123.1" cy="479.8" r="1.05" fill="#000"/>
<circle cx="124.8" cy="481.8" r="1.05" fill="#000"/>
<circle cx="166.1" cy="372.6" r="1.05" fill="#000"/>
<circle cx="167.8" cy="404.0" r="1.05" fill="#000"/>
<circle cx="164.4" cy="406.8" r="1.05" fill="#000"/>
<circle cx="167.8" cy="409.9" r="1.05" fill="#000"/>
<circle cx="187.6" cy="383.3" r="1.05" fill="#000"/>
<circle cx="187.6" cy="398.0" r="1.05" fill="#000"/>
<circle cx="187.6" cy="403.3" r="1.05" fill="#000"/>
<circle cx="189.3" cy="407.9" r="1.05" fill="#000"/>
<circle cx="185.9" cy="410.6" r="1.05" fill="#000"/>
<circle cx="209.1" cy="365.2" r="1.05" fill="#000"/>
<circle cx="209.1" cy="380.7" r="1.05" fill="#000"/>
<circle cx="209.1" cy="385.9" r="1.05" fill="#000"/>
<circle cx="209.1" cy="392.4" r="1.05" fill="#000"/>
<circle cx="207.4" cy="401.9" r="1.05" fill="#000"/>
<circle cx="210.8" cy="404.3" r="1.05" fill="#000"/>
<circle cx="162.7" cy="417.1" r="1.05" fill="#000"/>
<circle cx="166.1" cy="420.2" r="1.05" fill="#000"/>
<circle cx="169.5" cy="419.0" r="1.05" fill="#000"/>
<circle cx="164.4" cy="428.7" r="1.05" fill="#000"/>
<circle cx="167.8" cy="428.9" r="1.05" fill="#000"/>
<circle cx="166.1" cy="435.2" r="1.05" fill="#000"/>
<circle cx="164.4" cy="438.3" r="1.05" fill="#000"/>
<circle cx="167.8" cy="439.4" r="1.05" fill="#000"/>
<circle cx="162.7" cy="441.1" r="1.05" fill="#000"/>
<circle cx="169.5" cy="442.5" r="1.05" fill="#000"/>
<circle cx="166.1" cy="443.9" r="1.05" fill="#000"/>
<circle cx="164.4" cy="454.9" r="1.05" fill="#000"/>
<circle cx="167.8" cy="458.1" r="1.05" fill="#000"/>
<circle cx="167.8" cy="462.6" r="1.05" fill="#000"/>
<circle cx="164.4" cy="464.8" r="1.05" fill="#000"/>
<circle cx="162.7" cy="468.0" r="1.05" fill="#000"/>
<circle cx="169.5" cy="467.1" r="1.05" fill="#000"/>
<circle cx="187.6" cy="417.1" r="1.05" fill="#000"/>
<circle cx="189.3" cy="421.0" r="1.05" fill="#000"/>
<circle cx="185.9" cy="423.0" r="1.05" fill="#000"/>
<circle cx="184.2" cy="427.2" r="1.05" fill="#000"/>
<circle cx="187.6" cy="428.4" r="1.05" fill="#000"/>
<circle cx="191.0" cy="427.2" r="1.05" fill="#000"/>
<circle cx="185.9" cy="431.8" r="1.05" fill="#000"/>
<circle cx="189.3" cy="431.2" r="1.05" fill="#000"/>
<circle cx="184.2" cy="438.6" r="1.05" fill="#000"/>
<circle cx="191.0" cy="438.6" r="1.05" fill="#000"/>
<circle cx="207.4" cy="425.5" r="1.05" fill="#000"/>
<circle cx="210.8" cy="424.7" r="1.05" fill="#000"/>
<circle cx="204.0" cy="431.2" r="1.05" fill="#000"/>
<circle cx="207.4" cy="432.3" r="1.05" fill="#000"/>
<circle cx="210.8" cy="434.3" r="1.05" fill="#000"/>
<circle cx="214.2" cy="432.6" r="1.05" fill="#000"/>
<circle cx="210.8" cy="436.9" r="1.05" fill="#000"/>
<circle cx="207.4" cy="439.7" r="1.05" fill="#000"/>
<circle cx="209.1" cy="449.3" r="1.05" fill="#000"/>
<circle cx="204.0" cy="454.9" r="1.05" fill="#000"/>
<circle cx="207.4" cy="455.5" r="1.05" fill="#000"/>
<circle cx="210.8" cy="454.9" r="1.05" fill="#000"/>
<circle cx="214.2" cy="452.7" r="1.05" fill="#000"/>
<circle cx="207.4" cy="459.2" r="1.05" fill="#000"/>
<circle cx="210.8" cy="460.0" r="1.05" fill="#000"/>
<circle cx="207.4" cy="463.1" r="1.05" fill="#000"/>
<circle cx="212.5" cy="463.4" r="1.05" fill="#000"/>
<circle cx="252.1" cy="368.6" r="1.05" fill="#000"/>
<circle cx="252.1" cy="372.0" r="1.05" fill="#000"/>
<circle cx="252.1" cy="384.0" r="1.05" fill="#000"/>
<circle cx="252.1" cy="402.4" r="1.05" fill="#000"/>
<circle cx="252.1" cy="407.9" r="1.05" fill="#000"/>
<circle cx="252.1" cy="413.0" r="1.05" fill="#000"/>
<circle cx="273.6" cy="386.2" r="1.05" fill="#000"/>
<circle cx="273.6" cy="396.9" r="1.05" fill="#000"/>
<circle cx="275.3" cy="401.9" r="1.05" fill="#000"/>
<circle cx="271.9" cy="403.8" r="1.05" fill="#000"/>
<circle cx="273.6" cy="408.2" r="1.05" fill="#000"/>
<circle cx="295.1" cy="351.7" r="1.05" fill="#000"/>
<circle cx="295.1" cy="376.3" r="1.05" fill="#000"/>
<circle cx="295.1" cy="379.9" r="1.05" fill="#000"/>
<circle cx="295.1" cy="394.5" r="1.05" fill="#000"/>
<circle cx="295.1" cy="414.9" r="1.05" fill="#000"/>
<circle cx="252.1" cy="426.7" r="1.05" fill="#000"/>
<circle cx="252.1" cy="438.3" r="1.05" fill="#000"/>
<circle cx="252.1" cy="447.3" r="1.05" fill="#000"/>
<circle cx="250.4" cy="451.8" r="1.05" fill="#000"/>
<circle cx="253.8" cy="450.4" r="1.05" fill="#000"/>
<circle cx="255.5" cy="452.4" r="1.05" fill="#000"/>
<circle cx="248.7" cy="455.2" r="1.05" fill="#000"/>
<circle cx="252.1" cy="455.2" r="1.05" fill="#000"/>
<circle cx="248.7" cy="458.1" r="1.05" fill="#000"/>
<circle cx="252.1" cy="459.2" r="1.05" fill="#000"/>
<circle cx="255.5" cy="458.9" r="1.05" fill="#000"/>
<circle cx="247.0" cy="460.6" r="1.05" fill="#000"/>
<circle cx="250.4" cy="461.7" r="1.05" fill="#000"/>
<circle cx="253.8" cy="462.6" r="1.05" fill="#000"/>
<circle cx="257.2" cy="460.6" r="1.05" fill="#000"/>
<circle cx="253.8" cy="465.4" r="1.05" fill="#000"/>
<circle cx="250.4" cy="467.1" r="1.05" fill="#000"/>
<circle cx="271.9" cy="420.7" r="1.05" fill="#000"/>
<circle cx="275.3" cy="420.7" r="1.05" fill="#000"/>
<circle cx="273.6" cy="425.5" r="1.05" fill="#000"/>
<circle cx="271.9" cy="437.4" r="1.05" fill="#000"/>
<circle cx="275.3" cy="436.6" r="1.05" fill="#000"/>
<circle cx="270.2" cy="447.9" r="1.05" fill="#000"/>
<circle cx="273.6" cy="447.3" r="1.05" fill="#000"/>
<circle cx="273.6" cy="450.7" r="1.05" fill="#000"/>
<circle cx="277.0" cy="450.4" r="1.05" fill="#000"/>
<circle cx="273.6" cy="459.2" r="1.05" fill="#000"/>
<circle cx="273.6" cy="464.6" r="1.05" fill="#000"/>
<circle cx="277.0" cy="467.1" r="1.05" fill="#000"/>
<circle cx="270.2" cy="468.8" r="1.05" fill="#000"/>
<circle cx="273.6" cy="469.4" r="1.05" fill="#000"/>
<circle cx="295.1" cy="415.9" r="1.05" fill="#000"/>
<circle cx="293.4" cy="418.5" r="1.05" fill="#000"/>
<circle cx="296.8" cy="420.7" r="1.05" fill="#000"/>
<circle cx="295.1" cy="423.9" r="1.05" fill="#000"/>
<circle cx="293.4" cy="432.6" r="1.05" fill="#000"/>
<circle cx="296.8" cy="433.7" r="1.05" fill="#000"/>
<circle cx="293.4" cy="440.5" r="1.05" fill="#000"/>
<circle cx="296.8" cy="439.4" r="1.05" fill="#000"/>
<circle cx="291.7" cy="443.9" r="1.05" fill="#000"/>
<circle cx="295.1" cy="446.2" r="1.05" fill="#000"/>
<circle cx="298.5" cy="443.4" r="1.05" fill="#000"/>
<circle cx="296.8" cy="454.7" r="1.05" fill="#000"/>
<circle cx="293.4" cy="456.9" r="1.05" fill="#000"/>
<circle cx="293.4" cy="464.3" r="1.05" fill="#000"/>
<circle cx="296.8" cy="467.1" r="1.05" fill="#000"/>
<circle cx="291.7" cy="469.9" r="1.05" fill="#000"/>
<circle cx="295.1" cy="471.1" r="1.05" fill="#000"/>
<circle cx="298.5" cy="469.9" r="1.05" fill="#000"/>
<circle cx="338.1" cy="387.6" r="1.05" fill="#000"/>
<circle cx="336.4" cy="400.0" r="1.05" fill="#000"/>
<circle cx="339.8" cy="398.9" r="1.05" fill="#000"/>
<circle cx="338.1" cy="409.5" r="1.05" fill="#000"/>
<circle cx="359.3" cy="343.8" r="1.05" fill="#000"/>
<circle cx="357.9" cy="347.2" r="1.05" fill="#000"/>
<circle cx="361.6" cy="349.7" r="1.05" fill="#000"/>
<circle cx="359.8" cy="364.0" r="1.05" fill="#000"/>
<circle cx="357.9" cy="372.0" r="1.05" fill="#000"/>
<circle cx="361.6" cy="373.4" r="1.05" fill="#000"/>
<circle cx="359.8" cy="379.1" r="1.05" fill="#000"/>
<circle cx="357.9" cy="386.7" r="1.05" fill="#000"/>
<circle cx="361.6" cy="386.7" r="1.05" fill="#000"/>
<circle cx="356.2" cy="391.5" r="1.05" fill="#000"/>
<circle cx="359.8" cy="392.7" r="1.05" fill="#000"/>
<circle cx="363.3" cy="392.4" r="1.05" fill="#000"/>
<circle cx="359.8" cy="412.7" r="1.05" fill="#000"/>
<circle cx="379.7" cy="383.3" r="1.05" fill="#000"/>
<circle cx="383.1" cy="383.9" r="1.05" fill="#000"/>
<circle cx="383.1" cy="385.9" r="1.05" fill="#000"/>
<circle cx="379.7" cy="387.9" r="1.05" fill="#000"/>
<circle cx="381.4" cy="400.6" r="1.05" fill="#000"/>
<circle cx="381.4" cy="408.8" r="1.05" fill="#000"/>
<circle cx="338.1" cy="419.0" r="1.05" fill="#000"/>
<circle cx="338.1" cy="433.7" r="1.05" fill="#000"/>
<circle cx="336.4" cy="438.3" r="1.05" fill="#000"/>
<circle cx="339.8" cy="437.7" r="1.05" fill="#000"/>
<circle cx="336.4" cy="443.9" r="1.05" fill="#000"/>
<circle cx="339.8" cy="447.0" r="1.05" fill="#000"/>
<circle cx="334.2" cy="454.9" r="1.05" fill="#000"/>
<circle cx="335.9" cy="454.9" r="1.05" fill="#000"/>
<circle cx="337.6" cy="454.9" r="1.05" fill="#000"/>
<circle cx="339.3" cy="454.9" r="1.05" fill="#000"/>
<circle cx="341.0" cy="454.9" r="1.05" fill="#000"/>
<circle cx="342.4" cy="454.9" r="1.05" fill="#000"/>
<circle cx="341.5" cy="461.7" r="1.05" fill="#000"/>
<circle cx="334.7" cy="463.4" r="1.05" fill="#000"/>
<circle cx="338.1" cy="464.6" r="1.05" fill="#000"/>
<circle cx="334.7" cy="467.1" r="1.05" fill="#000"/>
<circle cx="338.1" cy="468.0" r="1.05" fill="#000"/>
<circle cx="341.5" cy="467.1" r="1.05" fill="#000"/>
<circle cx="336.4" cy="470.8" r="1.05" fill="#000"/>
<circle cx="359.8" cy="412.8" r="1.05" fill="#000"/>
<circle cx="357.9" cy="416.5" r="1.05" fill="#000"/>
<circle cx="361.6" cy="415.9" r="1.05" fill="#000"/>
<circle cx="357.9" cy="420.7" r="1.05" fill="#000"/>
<circle cx="361.6" cy="421.9" r="1.05" fill="#000"/>
<circle cx="357.9" cy="437.4" r="1.05" fill="#000"/>
<circle cx="361.6" cy="436.9" r="1.05" fill="#000"/>
<circle cx="356.2" cy="443.9" r="1.05" fill="#000"/>
<circle cx="359.8" cy="443.9" r="1.05" fill="#000"/>
<circle cx="363.3" cy="443.4" r="1.05" fill="#000"/>
<circle cx="379.7" cy="419.9" r="1.05" fill="#000"/>
<circle cx="383.1" cy="419.9" r="1.05" fill="#000"/>
<circle cx="379.7" cy="429.8" r="1.05" fill="#000"/>
<circle cx="383.1" cy="428.4" r="1.05" fill="#000"/>
<circle cx="379.7" cy="436.6" r="1.05" fill="#000"/>
<circle cx="383.1" cy="438.8" r="1.05" fill="#000"/>
<circle cx="381.4" cy="443.9" r="1.05" fill="#000"/>
<circle cx="376.3" cy="448.2" r="1.05" fill="#000"/>
<circle cx="379.7" cy="449.9" r="1.05" fill="#000"/>
<circle cx="383.1" cy="450.7" r="1.05" fill="#000"/>
<circle cx="386.5" cy="448.4" r="1.05" fill="#000"/>
<circle cx="376.0" cy="454.9" r="1.05" fill="#000"/>
<circle cx="378.0" cy="454.9" r="1.05" fill="#000"/>
<circle cx="380.0" cy="454.9" r="1.05" fill="#000"/>
<circle cx="382.0" cy="454.9" r="1.05" fill="#000"/>
<circle cx="383.9" cy="454.9" r="1.05" fill="#000"/>
<circle cx="385.9" cy="454.9" r="1.05" fill="#000"/>
<circle cx="387.3" cy="454.9" r="1.05" fill="#000"/>
<circle cx="379.7" cy="458.1" r="1.05" fill="#000"/>
<circle cx="383.1" cy="458.9" r="1.05" fill="#000"/>
<circle cx="424.1" cy="341.4" r="1.05" fill="#000"/>
<circle cx="424.1" cy="396.3" r="1.05" fill="#000"/>
<circle cx="424.1" cy="408.8" r="1.05" fill="#000"/>
<circle cx="443.9" cy="341.4" r="1.05" fill="#000"/>
<circle cx="447.6" cy="341.4" r="1.05" fill="#000"/>
<circle cx="445.8" cy="381.4" r="1.05" fill="#000"/>
<circle cx="443.9" cy="383.1" r="1.05" fill="#000"/>
<circle cx="447.6" cy="385.0" r="1.05" fill="#000"/>
<circle cx="447.6" cy="401.7" r="1.05" fill="#000"/>
<circle cx="443.9" cy="403.8" r="1.05" fill="#000"/>
<circle cx="445.8" cy="414.4" r="1.05" fill="#000"/>
<circle cx="467.4" cy="341.4" r="1.05" fill="#000"/>
<circle cx="467.4" cy="364.1" r="1.05" fill="#000"/>
<circle cx="424.1" cy="432.3" r="1.05" fill="#000"/>
<circle cx="420.7" cy="436.3" r="1.05" fill="#000"/>
<circle cx="424.1" cy="437.4" r="1.05" fill="#000"/>
<circle cx="427.5" cy="435.4" r="1.05" fill="#000"/>
<circle cx="424.1" cy="446.7" r="1.05" fill="#000"/>
<circle cx="422.4" cy="448.7" r="1.05" fill="#000"/>
<circle cx="425.8" cy="450.4" r="1.05" fill="#000"/>
<circle cx="420.7" cy="457.2" r="1.05" fill="#000"/>
<circle cx="424.1" cy="460.3" r="1.05" fill="#000"/>
<circle cx="427.5" cy="459.5" r="1.05" fill="#000"/>
<circle cx="424.1" cy="470.5" r="1.05" fill="#000"/>
<circle cx="424.1" cy="473.9" r="1.05" fill="#000"/>
<circle cx="419.9" cy="479.3" r="1.05" fill="#000"/>
<circle cx="421.6" cy="479.3" r="1.05" fill="#000"/>
<circle cx="423.3" cy="479.3" r="1.05" fill="#000"/>
<circle cx="425.0" cy="479.3" r="1.05" fill="#000"/>
<circle cx="426.7" cy="479.3" r="1.05" fill="#000"/>
<circle cx="428.4" cy="479.3" r="1.05" fill="#000"/>
<circle cx="422.4" cy="477.6" r="1.05" fill="#000"/>
<circle cx="420.7" cy="482.9" r="1.05" fill="#000"/>
<circle cx="427.5" cy="483.8" r="1.05" fill="#000"/>
<circle cx="424.1" cy="486.0" r="1.05" fill="#000"/>
<circle cx="422.4" cy="488.0" r="1.05" fill="#000"/>
<circle cx="425.8" cy="489.2" r="1.05" fill="#000"/>
<circle cx="445.8" cy="414.5" r="1.05" fill="#000"/>
<circle cx="445.8" cy="430.9" r="1.05" fill="#000"/>
<circle cx="442.2" cy="449.6" r="1.05" fill="#000"/>
<circle cx="445.8" cy="451.0" r="1.05" fill="#000"/>
<circle cx="449.3" cy="448.7" r="1.05" fill="#000"/>
<circle cx="443.9" cy="455.2" r="1.05" fill="#000"/>
<circle cx="447.6" cy="453.8" r="1.05" fill="#000"/>
<circle cx="445.8" cy="464.3" r="1.05" fill="#000"/>
<circle cx="440.5" cy="473.6" r="1.05" fill="#000"/>
<circle cx="443.9" cy="474.7" r="1.05" fill="#000"/>
<circle cx="447.6" cy="473.6" r="1.05" fill="#000"/>
<circle cx="451.0" cy="471.9" r="1.05" fill="#000"/>
<circle cx="445.8" cy="477.8" r="1.05" fill="#000"/>
<circle cx="447.6" cy="479.0" r="1.05" fill="#000"/>
<circle cx="443.9" cy="481.0" r="1.05" fill="#000"/>
<circle cx="445.8" cy="488.0" r="1.05" fill="#000"/>
<circle cx="467.4" cy="430.9" r="1.05" fill="#000"/>
<circle cx="467.4" cy="449.0" r="1.05" fill="#000"/>
<circle cx="465.4" cy="454.1" r="1.05" fill="#000"/>
<circle cx="466.5" cy="454.7" r="1.05" fill="#000"/>
<circle cx="469.1" cy="456.4" r="1.05" fill="#000"/>
<circle cx="469.1" cy="460.9" r="1.05" fill="#000"/>
<circle cx="465.7" cy="462.3" r="1.05" fill="#000"/>
<circle cx="467.4" cy="466.0" r="1.05" fill="#000"/>
<circle cx="464.0" cy="478.7" r="1.05" fill="#000"/>
<circle cx="470.8" cy="479.0" r="1.05" fill="#000"/>
<circle cx="467.4" cy="481.5" r="1.05" fill="#000"/>
<circle cx="470.8" cy="482.9" r="1.05" fill="#000"/>
<circle cx="464.0" cy="484.9" r="1.05" fill="#000"/>
<circle cx="467.4" cy="484.9" r="1.05" fill="#000"/>
<circle cx="461.4" cy="487.2" r="1.05" fill="#000"/>
<circle cx="465.7" cy="487.5" r="1.05" fill="#000"/>
<circle cx="469.1" cy="487.7" r="1.05" fill="#000"/>
<circle cx="472.5" cy="487.2" r="1.05" fill="#000"/>
<circle cx="464.0" cy="489.2" r="1.05" fill="#000"/>
<circle cx="467.4" cy="489.4" r="1.05" fill="#000"/>
<circle cx="470.8" cy="489.2" r="1.05" fill="#000"/>
<circle cx="418.5" cy="496.0" r="1.05" fill="#000"/>
<circle cx="430.1" cy="496.0" r="1.05" fill="#000"/>
<circle cx="420.7" cy="498.0" r="1.05" fill="#000"/>
<circle cx="424.1" cy="498.8" r="1.05" fill="#000"/>
<circle cx="427.5" cy="498.0" r="1.05" fill="#000"/>
<circle cx="442.5" cy="491.8" r="1.05" fill="#000"/>
<circle cx="445.8" cy="493.2" r="1.05" fill="#000"/>
<circle cx="449.3" cy="492.6" r="1.05" fill="#000"/>
<circle cx="441.7" cy="496.0" r="1.05" fill="#000"/>
<circle cx="443.6" cy="496.0" r="1.05" fill="#000"/>
<circle cx="445.8" cy="496.0" r="1.05" fill="#000"/>
<circle cx="447.9" cy="496.0" r="1.05" fill="#000"/>
<circle cx="450.1" cy="496.0" r="1.05" fill="#000"/>
<circle cx="443.9" cy="498.3" r="1.05" fill="#000"/>
<circle cx="447.6" cy="497.7" r="1.05" fill="#000"/>
<circle cx="467.4" cy="491.2" r="1.05" fill="#000"/>
<circle cx="462.3" cy="492.9" r="1.05" fill="#000"/>
<circle cx="472.2" cy="492.6" r="1.05" fill="#000"/>
<circle cx="465.7" cy="495.4" r="1.05" fill="#000"/>
<circle cx="469.1" cy="494.9" r="1.05" fill="#000"/>
<circle cx="465.7" cy="496.3" r="1.05" fill="#000"/>
<circle cx="469.1" cy="499.4" r="1.05" fill="#000"/>
<circle cx="462.3" cy="500.2" r="1.05" fill="#000"/>
<circle cx="472.5" cy="500.0" r="1.05" fill="#000"/>
<circle cx="510.4" cy="346.8" r="1.05" fill="#000"/>
<circle cx="510.4" cy="360.0" r="1.05" fill="#000"/>
<circle cx="510.4" cy="386.6" r="1.05" fill="#000"/>
<circle cx="510.4" cy="393.0" r="1.05" fill="#000"/>
<circle cx="510.4" cy="397.3" r="1.05" fill="#000"/>
<circle cx="510.4" cy="400.5" r="1.05" fill="#000"/>
<circle cx="512.0" cy="403.2" r="1.05" fill="#000"/>
<circle cx="508.8" cy="404.3" r="1.05" fill="#000"/>
<circle cx="531.8" cy="346.0" r="1.05" fill="#000"/>
<circle cx="531.8" cy="356.2" r="1.05" fill="#000"/>
<circle cx="531.8" cy="362.1" r="1.05" fill="#000"/>
<circle cx="551.8" cy="347.1" r="1.05" fill="#000"/>
<circle cx="555.0" cy="347.1" r="1.05" fill="#000"/>
<circle cx="553.4" cy="357.3" r="1.05" fill="#000"/>
<circle cx="555.0" cy="368.6" r="1.05" fill="#000"/>
<circle cx="551.8" cy="371.0" r="1.05" fill="#000"/>
<circle cx="553.4" cy="374.2" r="1.05" fill="#000"/>
<circle cx="553.4" cy="377.7" r="1.05" fill="#000"/>
<circle cx="549.5" cy="560.9" r="1.05" fill="#000"/>
<circle cx="557.2" cy="560.5" r="1.05" fill="#000"/>
<circle cx="547.4" cy="563.4" r="1.05" fill="#000"/>
<circle cx="551.9" cy="562.5" r="1.05" fill="#000"/>
<circle cx="556.1" cy="563.9" r="1.05" fill="#000"/>
<circle cx="559.1" cy="563.4" r="1.05" fill="#000"/>
<circle cx="550.3" cy="565.3" r="1.05" fill="#000"/>
<circle cx="553.5" cy="565.8" r="1.05" fill="#000"/>
<text transform="translate(105.0,595.3) scale(1.055,1)" font-size="14.0" text-anchor="middle" fill="#000" stroke="#000" stroke-width="0.2">MSP-1 19kD</text>
<text transform="translate(188.2,595.3) scale(1.055,1)" font-size="14.0" text-anchor="middle" fill="#000" stroke="#000" stroke-width="0.2">MSP-2</text>
<text transform="translate(272.2,595.3) scale(1.055,1)" font-size="14.0" text-anchor="middle" fill="#000" stroke="#000" stroke-width="0.2">MSP-3</text>
<text transform="translate(356.5,595.3) scale(1.055,1)" font-size="14.0" text-anchor="middle" fill="#000" stroke="#000" stroke-width="0.2">PfRh2</text>
<text transform="translate(446.8,595.3) scale(1.055,1)" font-size="14.0" text-anchor="middle" fill="#000" stroke="#000" stroke-width="0.2">EBA-175</text>
<text transform="translate(529.3,588.7) scale(1.055,1)" font-size="14.0" text-anchor="middle" fill="#000" stroke="#000" stroke-width="0.2">Schizont</text>
<text transform="translate(532.0,606.4) scale(1.055,1)" font-size="14.0" text-anchor="middle" fill="#000" stroke="#000" stroke-width="0.2">extract</text>
</g>
</g>
</svg></body></html>
